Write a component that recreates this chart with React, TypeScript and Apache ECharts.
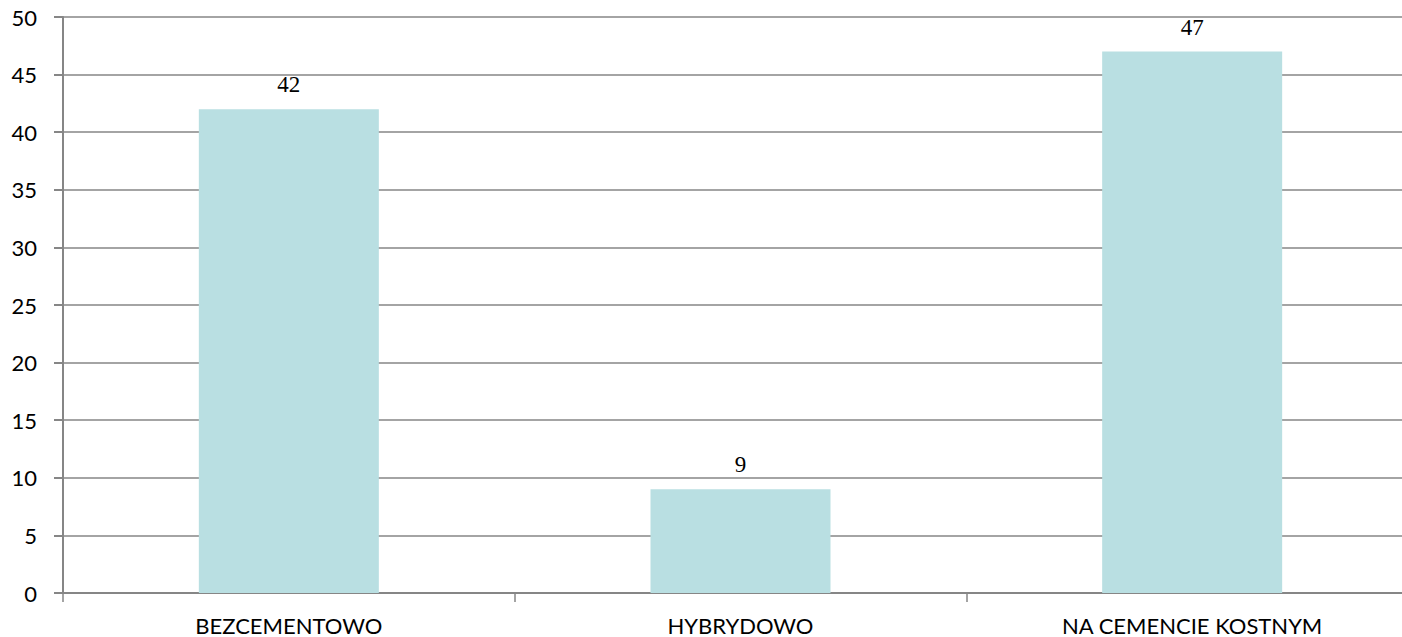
import React, { useEffect, useRef } from "react";
import * as echarts from "echarts";

const categories = ["BEZCEMENTOWO", "HYBRYDOWO", "NA CEMENCIE KOSTNYM"];
const values = [42, 9, 47];

export default function App() {
  const ref = useRef<HTMLDivElement>(null);

  useEffect(() => {
    if (!ref.current) return;
    const chart = echarts.init(ref.current, null, { renderer: "svg" });
    chart.setOption({
      animation: false,
      backgroundColor: "#ffffff",
      grid: { left: 63, top: 17, right: 0, bottom: 44, containLabel: false },
      xAxis: {
        type: "category",
        data: categories,
        axisLine: { show: true, lineStyle: { color: "#868686", width: 2 } },
        axisTick: { show: true, length: 9, lineStyle: { color: "#868686", width: 1.5 } },
        axisLabel: {
          color: "#000",
          fontFamily: "Lato",
          fontSize: 22,
          margin: 21,
        },
      },
      yAxis: {
        type: "value",
        min: 0,
        max: 50,
        interval: 5,
        axisLine: { show: true, lineStyle: { color: "#868686", width: 2 } },
        axisTick: { show: true, length: 9, lineStyle: { color: "#868686", width: 2 } },
        splitLine: { show: true, lineStyle: { color: "#868686", width: 1.5 } },
        axisLabel: {
          color: "#000",
          fontFamily: "Lato",
          fontSize: 22,
          margin: 26,
        },
      },
      series: [
        {
          type: "bar",
          data: values,
          barWidth: 180,
          itemStyle: { color: "#b9dfe2" },
          label: {
            show: true,
            position: "top",
            distance: 13,
            color: "#000",
            fontFamily: "Liberation Serif",
            fontSize: 23,
          },
        },
      ],
    });
    return () => chart.dispose();
  }, []);

  // The plot area runs slightly past the right edge of the visible frame.
  return (
    <div style={{ position: "fixed", left: 0, top: 0, width: 1402, height: 637, overflow: "hidden", background: "#fff" }}>
      <div ref={ref} style={{ width: 1418, height: 637 }} />
    </div>
  );
}
